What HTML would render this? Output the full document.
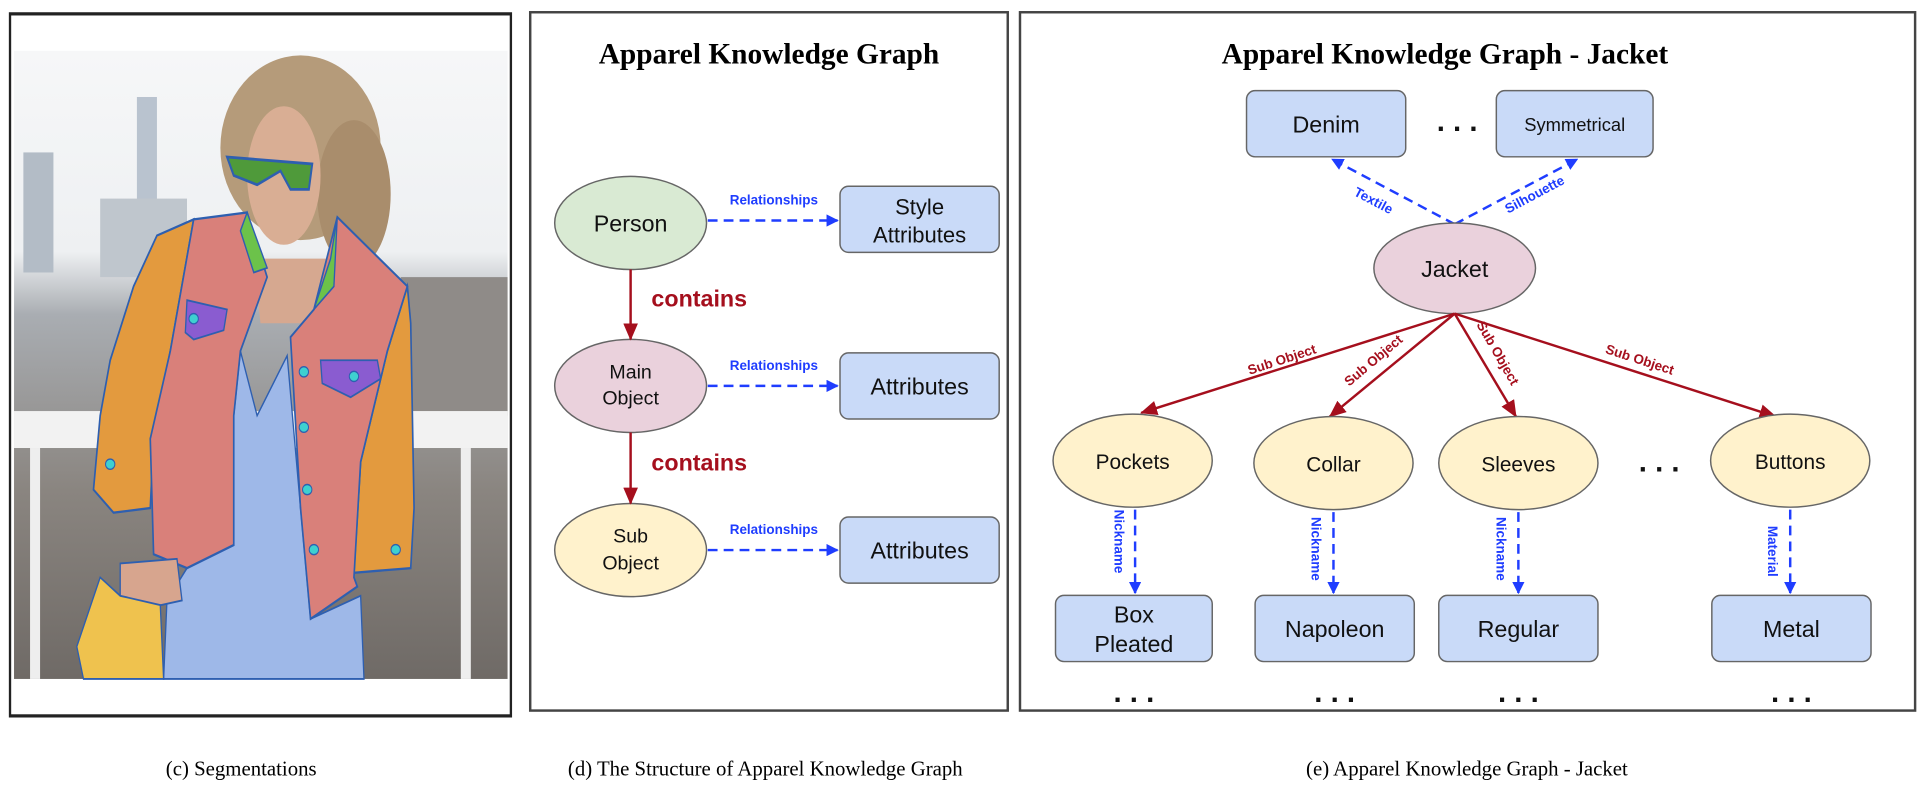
<!DOCTYPE html>
<html><head><meta charset="utf-8"><style>
html,body{margin:0;padding:0;background:#fff;width:1920px;height:800px;overflow:hidden}
svg{display:block}
.n{font-family:"Liberation Sans",sans-serif;fill:#111;text-anchor:middle}
.d{font-family:"Liberation Sans",sans-serif;fill:#111;text-anchor:middle;font-weight:bold;font-size:24px}
.t{font-family:"Liberation Serif",serif;font-weight:bold;fill:#000;text-anchor:middle}
.c{font-family:"Liberation Serif",serif;fill:#000;text-anchor:middle;font-size:17px}
.bl{font-family:"Liberation Sans",sans-serif;font-weight:bold;fill:#1f3dff;font-size:11px;text-anchor:middle}
.rl{font-family:"Liberation Sans",sans-serif;font-weight:bold;fill:#a50f1d;font-size:11px;text-anchor:middle}
</style></head><body>
<svg width="1920" height="800" viewBox="0 0 1568 653" preserveAspectRatio="none" xmlns="http://www.w3.org/2000/svg">
<defs>
<marker id="ab" markerWidth="10" markerHeight="10" refX="9" refY="5" orient="auto" markerUnits="userSpaceOnUse"><path d="M0,0 L10,5 L0,10 z" fill="#1f3dff"/></marker>
<marker id="ar" markerWidth="14" markerHeight="12" refX="13" refY="6" orient="auto" markerUnits="userSpaceOnUse"><path d="M0,0 L14,6 L0,12 z" fill="#a50f1d"/></marker>
<linearGradient id="bg" x1="0" y1="0" x2="0" y2="1"><stop offset="0" stop-color="#f6f7f8"/><stop offset="0.32" stop-color="#eef0f2"/><stop offset="0.42" stop-color="#a9adb2"/><stop offset="0.7" stop-color="#8a8580"/><stop offset="1" stop-color="#6f6a66"/></linearGradient>
</defs>

<!-- LEFT PANEL -->
<g transform="scale(0.2727,0.377)">
<rect x="30" y="30" width="1500" height="1520" fill="#fff" stroke="#222" stroke-width="7"/>
<rect x="42" y="110" width="1478" height="1360" fill="url(#bg)"/>
<rect x="410" y="210" width="60" height="400" fill="#b9c3cf"/>
<rect x="70" y="330" width="90" height="260" fill="#b3bcc6"/>
<rect x="300" y="430" width="260" height="170" fill="#bfc6cd"/>
<rect x="1200" y="600" width="320" height="300" fill="#8f8b88"/>
<rect x="42" y="890" width="1478" height="80" fill="#f2f2f2"/>
<rect x="90" y="970" width="30" height="500" fill="#eee"/>
<rect x="1380" y="970" width="30" height="500" fill="#eee"/>
<ellipse cx="900" cy="320" rx="240" ry="200" fill="#b59b7a"/>
<ellipse cx="1060" cy="420" rx="110" ry="160" fill="#a98d6c"/>
<ellipse cx="850" cy="380" rx="110" ry="150" fill="#d9ae94"/>
<path d="M760,560 L980,560 L960,700 L780,700 Z" fill="#d6a890"/>
<path d="M680,340 L935,355 L925,410 L870,410 L840,370 L770,400 L700,380 Z" fill="#4f9a3a" stroke="#2e5fb0" stroke-width="6"/>
<path d="M720,760 L770,900 L860,770 L900,1100 L930,1340 L1080,1290 L1090,1470 L490,1470 L500,1300 L560,1230 L700,1180 L700,900 Z" fill="#9eb8e8" stroke="#2e5fb0" stroke-width="4"/>
<path d="M470,510 L580,475 L510,760 L460,950 L450,1100 L340,1110 L280,1060 L300,900 L330,780 L400,620 Z" fill="#e39a3e" stroke="#2e5fb0" stroke-width="5"/>
<path d="M1220,620 L1160,760 L1080,1000 L1060,1240 L1230,1230 L1240,1100 L1230,700 Z" fill="#e39a3e" stroke="#2e5fb0" stroke-width="5"/>
<path d="M580,475 L740,460 L800,600 L720,760 L700,900 L700,1180 L560,1230 L460,1200 L450,950 L510,760 Z" fill="#d9807a" stroke="#2e5fb0" stroke-width="5"/>
<path d="M1010,470 L1220,620 L1160,760 L1080,1000 L1060,1250 L1070,1270 L930,1340 L900,1100 L870,730 L940,670 Z" fill="#d9807a" stroke="#2e5fb0" stroke-width="5"/>
<path d="M740,460 L800,580 L760,590 L720,500 Z" fill="#6cc24a" stroke="#2e5fb0" stroke-width="4"/>
<path d="M1010,470 L1000,620 L940,670 L990,560 Z" fill="#6cc24a" stroke="#2e5fb0" stroke-width="4"/>
<path d="M560,650 L680,670 L670,715 L580,735 L555,720 Z" fill="#8a5cd0" stroke="#2e5fb0" stroke-width="4"/>
<path d="M960,780 L1130,780 L1140,820 L1050,860 L965,830 Z" fill="#8a5cd0" stroke="#2e5fb0" stroke-width="4"/>
<path d="M360,1220 L530,1210 L545,1300 L420,1320 L360,1290 Z" fill="#d7a58e" stroke="#2e5fb0" stroke-width="4"/>
<path d="M300,1250 L360,1290 L480,1310 L490,1470 L250,1470 L230,1400 Z" fill="#efc24e" stroke="#2e5fb0" stroke-width="4"/>
<g fill="#3ed0d0" stroke="#2e5fb0" stroke-width="3">
<ellipse cx="580" cy="690" rx="14" ry="11"/><ellipse cx="1060" cy="815" rx="14" ry="11"/><ellipse cx="910" cy="805" rx="14" ry="11"/><ellipse cx="910" cy="925" rx="14" ry="11"/><ellipse cx="920" cy="1060" rx="14" ry="11"/><ellipse cx="940" cy="1190" rx="14" ry="11"/><ellipse cx="330" cy="1005" rx="14" ry="11"/><ellipse cx="1185" cy="1190" rx="14" ry="11"/>
</g>
</g>

<!-- MIDDLE PANEL -->
<rect x="433" y="10" width="390" height="570" fill="none" stroke="#444" stroke-width="2"/>
<text class="t" x="628" y="52" font-size="24">Apparel Knowledge Graph</text>
<ellipse cx="515" cy="182" rx="62" ry="38" fill="#d9ead3" stroke="#666" stroke-width="1.2"/>
<text class="n" x="515" y="189" font-size="19">Person</text>
<ellipse cx="515" cy="315" rx="62" ry="38" fill="#ead1dc" stroke="#666" stroke-width="1.2"/>
<text class="n" x="515" y="309" font-size="16">Main</text><text class="n" x="515" y="330" font-size="16">Object</text>
<ellipse cx="515" cy="449" rx="62" ry="38" fill="#fff2cc" stroke="#666" stroke-width="1.2"/>
<text class="n" x="515" y="443" font-size="16">Sub</text><text class="n" x="515" y="465" font-size="16">Object</text>
<rect x="686" y="152" width="130" height="54" rx="7" fill="#c9daf8" stroke="#666" stroke-width="1.2"/>
<text class="n" x="751" y="175" font-size="18">Style</text><text class="n" x="751" y="198" font-size="18">Attributes</text>
<rect x="686" y="288" width="130" height="54" rx="7" fill="#c9daf8" stroke="#666" stroke-width="1.2"/>
<text class="n" x="751" y="322" font-size="19">Attributes</text>
<rect x="686" y="422" width="130" height="54" rx="7" fill="#c9daf8" stroke="#666" stroke-width="1.2"/>
<text class="n" x="751" y="456" font-size="19">Attributes</text>
<line x1="515" y1="220" x2="515" y2="277" stroke="#a50f1d" stroke-width="2" marker-end="url(#ar)"/>
<line x1="515" y1="353" x2="515" y2="411" stroke="#a50f1d" stroke-width="2" marker-end="url(#ar)"/>
<text x="532" y="250" font-family="Liberation Sans,sans-serif" font-weight="bold" font-size="19" fill="#a50f1d">contains</text>
<text x="532" y="384" font-family="Liberation Sans,sans-serif" font-weight="bold" font-size="19" fill="#a50f1d">contains</text>
<g stroke="#1f3dff" stroke-width="2" stroke-dasharray="8,5" marker-end="url(#ab)">
<line x1="578" y1="180" x2="684" y2="180"/><line x1="578" y1="315" x2="684" y2="315"/><line x1="578" y1="449" x2="684" y2="449"/>
</g>
<text class="bl" x="632" y="167">Relationships</text>
<text class="bl" x="632" y="302">Relationships</text>
<text class="bl" x="632" y="436">Relationships</text>

<!-- RIGHT PANEL -->
<rect x="833" y="10" width="731" height="570" fill="none" stroke="#444" stroke-width="2"/>
<text class="t" x="1180" y="52" font-size="24">Apparel Knowledge Graph - Jacket</text>
<rect x="1018" y="74" width="130" height="54" rx="7" fill="#c9daf8" stroke="#666" stroke-width="1.2"/>
<text class="n" x="1083" y="108" font-size="19">Denim</text>
<text class="d" x="1190" y="107">. . .</text>
<rect x="1222" y="74" width="128" height="54" rx="7" fill="#c9daf8" stroke="#666" stroke-width="1.2"/>
<text class="n" x="1286" y="107" font-size="15">Symmetrical</text>
<g stroke="#1f3dff" stroke-width="2" stroke-dasharray="8,5" marker-end="url(#ab)" fill="none">
<line x1="1188" y1="183" x2="1088" y2="130"/><line x1="1188" y1="183" x2="1288" y2="130"/>
</g>
<text class="bl" transform="translate(1120,167) rotate(28)">Textile</text>
<text class="bl" transform="translate(1255,162) rotate(-28)">Silhouette</text>
<ellipse cx="1188" cy="219" rx="66" ry="37" fill="#ead1dc" stroke="#666" stroke-width="1.2"/>
<text class="n" x="1188" y="226" font-size="19">Jacket</text>
<g stroke="#a50f1d" stroke-width="2" marker-end="url(#ar)">
<line x1="1188" y1="256" x2="932" y2="337"/><line x1="1188" y1="256" x2="1086" y2="340"/><line x1="1188" y1="256" x2="1238" y2="340"/><line x1="1188" y1="256" x2="1450" y2="340"/>
</g>
<text class="rl" transform="translate(1048,297) rotate(-18)">Sub Object</text>
<text class="rl" transform="translate(1124,297) rotate(-40)">Sub Object</text>
<text class="rl" transform="translate(1220,290) rotate(60)">Sub Object</text>
<text class="rl" transform="translate(1338,297) rotate(18)">Sub Object</text>
<g fill="#fff2cc" stroke="#666" stroke-width="1.2">
<ellipse cx="925" cy="376" rx="65" ry="38"/><ellipse cx="1089" cy="378" rx="65" ry="38"/><ellipse cx="1240" cy="378" rx="65" ry="38"/><ellipse cx="1462" cy="376" rx="65" ry="38"/>
</g>
<text class="n" x="925" y="383" font-size="17">Pockets</text>
<text class="n" x="1089" y="385" font-size="17">Collar</text>
<text class="n" x="1240" y="385" font-size="17">Sleeves</text>
<text class="n" x="1462" y="383" font-size="17">Buttons</text>
<text class="d" x="1355" y="385">. . .</text>
<g stroke="#1f3dff" stroke-width="2" stroke-dasharray="8,5" marker-end="url(#ab)">
<line x1="927" y1="416" x2="927" y2="484"/><line x1="1089" y1="418" x2="1089" y2="484"/><line x1="1240" y1="418" x2="1240" y2="484"/><line x1="1462" y1="416" x2="1462" y2="484"/>
</g>
<text class="bl" transform="translate(910,442) rotate(90)">Nickname</text>
<text class="bl" transform="translate(1071,448) rotate(90)">Nickname</text>
<text class="bl" transform="translate(1222,448) rotate(90)">Nickname</text>
<text class="bl" transform="translate(1444,450) rotate(90)">Material</text>
<g fill="#c9daf8" stroke="#666" stroke-width="1.2">
<rect x="862" y="486" width="128" height="54" rx="7"/><rect x="1025" y="486" width="130" height="54" rx="7"/><rect x="1175" y="486" width="130" height="54" rx="7"/><rect x="1398" y="486" width="130" height="54" rx="7"/>
</g>
<text class="n" x="926" y="508" font-size="19">Box</text><text class="n" x="926" y="532" font-size="19">Pleated</text>
<text class="n" x="1090" y="520" font-size="19">Napoleon</text>
<text class="n" x="1240" y="520" font-size="19">Regular</text>
<text class="n" x="1463" y="520" font-size="19">Metal</text>
<text class="d" x="926" y="573">. . .</text><text class="d" x="1090" y="573">. . .</text><text class="d" x="1240" y="573">. . .</text><text class="d" x="1463" y="573">. . .</text>

<!-- CAPTIONS -->
<text class="c" x="197" y="633">(c) Segmentations</text>
<text class="c" x="625" y="633">(d) The Structure of Apparel Knowledge Graph</text>
<text class="c" x="1198" y="633">(e) Apparel Knowledge Graph - Jacket</text>
</svg>
</body></html>
